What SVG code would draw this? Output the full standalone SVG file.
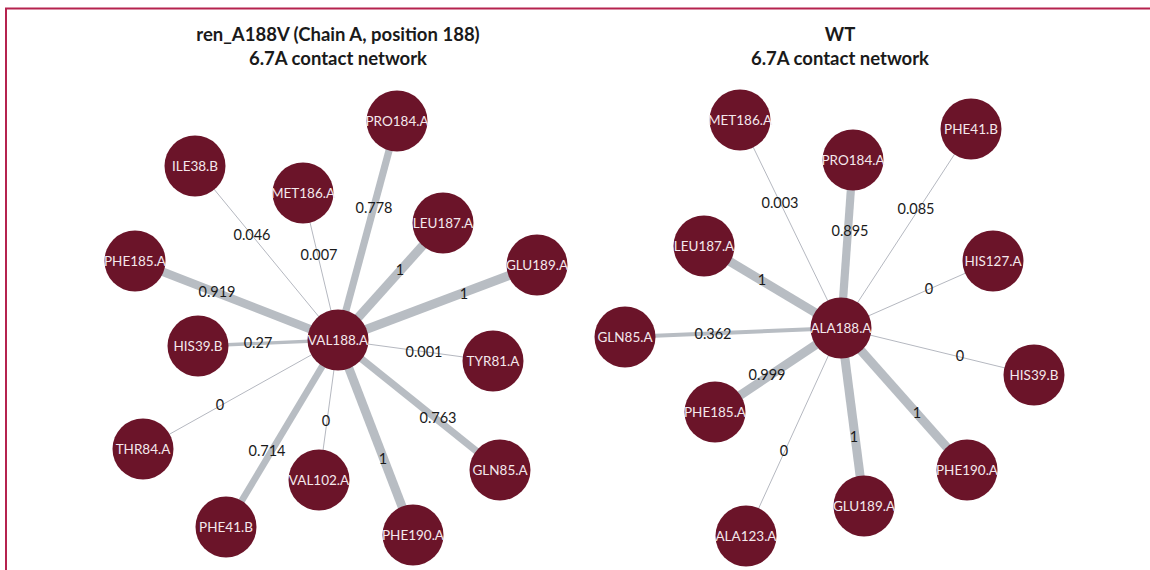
<svg xmlns="http://www.w3.org/2000/svg" width="1150" height="570" viewBox="0 0 1150 570">
<style>
.bg{fill:#ffffff}
.frame{fill:none;stroke:#b5234f;stroke-width:2}
.title{font-family:Lato,"Liberation Sans",sans-serif;font-weight:bold;font-size:18.5px;fill:#1a1a1a;text-anchor:middle}
.n circle{fill:#6b1429}
.n text{font-family:Lato,"Liberation Sans",sans-serif;font-size:13.5px;fill:#f4e8ec;text-anchor:middle}
.e line{stroke:#b8bdc3;stroke-linecap:butt}
.e line.t{stroke:#b5b8c0;stroke-width:1}
.el{font-family:Lato,"Liberation Sans",sans-serif;font-size:14.5px;fill:#1a1a1a;text-anchor:middle}
</style>
<rect class="bg" x="0" y="0" width="1150" height="570"/>
<path class="frame" d="M6,571 V8.5 H1151"/>
<text class="title" x="338" y="41">ren_A188V (Chain A, position 188)</text>
<text class="title" x="338" y="65">6.7A contact network</text>
<text class="title" x="840" y="41">WT</text>
<text class="title" x="840" y="65">6.7A contact network</text>

<g id="connectors" class="e">
<line x1="338" y1="340" x2="397" y2="121" stroke-width="7.2"/>
<line class="t" x1="338" y1="340" x2="195" y2="166"/>
<line class="t" x1="338" y1="340" x2="303" y2="193"/>
<line x1="338" y1="340" x2="443" y2="223" stroke-width="9"/>
<line x1="338" y1="340" x2="537" y2="265" stroke-width="9"/>
<line x1="338" y1="340" x2="135" y2="261" stroke-width="8.4"/>
<line x1="338" y1="340" x2="198" y2="346" stroke-width="3.4"/>
<line class="t" x1="338" y1="340" x2="493" y2="361"/>
<line class="t" x1="338" y1="340" x2="143" y2="449"/>
<line x1="338" y1="340" x2="500" y2="470" stroke-width="7.1"/>
<line class="t" x1="338" y1="340" x2="319" y2="480"/>
<line x1="338" y1="340" x2="226" y2="527" stroke-width="6.7"/>
<line x1="338" y1="340" x2="413" y2="535" stroke-width="9"/>

<line class="t" x1="841" y1="328" x2="740" y2="120"/>
<line x1="841" y1="328" x2="853" y2="160" stroke-width="8.2"/>
<line class="t" x1="841" y1="328" x2="971" y2="129"/>
<line x1="841" y1="328" x2="704" y2="246" stroke-width="9"/>
<line class="t" x1="841" y1="328" x2="993" y2="261"/>
<line x1="841" y1="328" x2="625" y2="337" stroke-width="3.9"/>
<line class="t" x1="841" y1="328" x2="1034" y2="375"/>
<line x1="841" y1="328" x2="715" y2="412" stroke-width="9"/>
<line x1="841" y1="328" x2="967" y2="470" stroke-width="9"/>
<line x1="841" y1="328" x2="864" y2="506" stroke-width="9"/>
<line class="t" x1="841" y1="328" x2="746" y2="536"/>
</g>

<g id="edge-labels">
<text class="el" x="374" y="213">0.778</text>
<text class="el" x="252" y="240">0.046</text>
<text class="el" x="319" y="260">0.007</text>
<text class="el" x="400" y="275">1</text>
<text class="el" x="464" y="299">1</text>
<text class="el" x="217" y="297">0.919</text>
<text class="el" x="258" y="348">0.27</text>
<text class="el" x="424" y="357">0.001</text>
<text class="el" x="220" y="410">0</text>
<text class="el" x="326" y="426">0</text>
<text class="el" x="438" y="423">0.763</text>
<text class="el" x="267" y="456">0.714</text>
<text class="el" x="383" y="464">1</text>

<text class="el" x="780" y="208">0.003</text>
<text class="el" x="850" y="236">0.895</text>
<text class="el" x="916" y="214">0.085</text>
<text class="el" x="762" y="285">1</text>
<text class="el" x="929" y="294">0</text>
<text class="el" x="713" y="339">0.362</text>
<text class="el" x="960" y="361">0</text>
<text class="el" x="767" y="380">0.999</text>
<text class="el" x="917" y="418">1</text>
<text class="el" x="854" y="442">1</text>
<text class="el" x="784" y="456">0</text>
</g>

<g id="left-VAL188A" class="n"><circle cx="338" cy="340" r="30.5"/><text x="338" y="345">VAL188.A</text></g>
<g id="left-PRO184A" class="n"><circle cx="397" cy="121" r="30.5"/><text x="397" y="126">PRO184.A</text></g>
<g id="left-ILE38B" class="n"><circle cx="195" cy="166" r="30.5"/><text x="195" y="171">ILE38.B</text></g>
<g id="left-MET186A" class="n"><circle cx="303" cy="193" r="30.5"/><text x="303" y="198">MET186.A</text></g>
<g id="left-LEU187A" class="n"><circle cx="443" cy="223" r="30.5"/><text x="443" y="228">LEU187.A</text></g>
<g id="left-GLU189A" class="n"><circle cx="537" cy="265" r="30.5"/><text x="537" y="270">GLU189.A</text></g>
<g id="left-PHE185A" class="n"><circle cx="135" cy="261" r="30.5"/><text x="135" y="266">PHE185.A</text></g>
<g id="left-HIS39B" class="n"><circle cx="198" cy="346" r="30.5"/><text x="198" y="351">HIS39.B</text></g>
<g id="left-TYR81A" class="n"><circle cx="493" cy="361" r="30.5"/><text x="493" y="366">TYR81.A</text></g>
<g id="left-THR84A" class="n"><circle cx="143" cy="449" r="30.5"/><text x="143" y="454">THR84.A</text></g>
<g id="left-GLN85A" class="n"><circle cx="500" cy="470" r="30.5"/><text x="500" y="475">GLN85.A</text></g>
<g id="left-VAL102A" class="n"><circle cx="319" cy="480" r="30.5"/><text x="319" y="485">VAL102.A</text></g>
<g id="left-PHE41B" class="n"><circle cx="226" cy="527" r="30.5"/><text x="226" y="532">PHE41.B</text></g>
<g id="left-PHE190A" class="n"><circle cx="413" cy="535" r="30.5"/><text x="413" y="540">PHE190.A</text></g>

<g id="right-ALA188A" class="n"><circle cx="841" cy="328" r="30.5"/><text x="841" y="333">ALA188.A</text></g>
<g id="right-MET186A" class="n"><circle cx="740" cy="120" r="30.5"/><text x="740" y="125">MET186.A</text></g>
<g id="right-PRO184A" class="n"><circle cx="853" cy="160" r="30.5"/><text x="853" y="165">PRO184.A</text></g>
<g id="right-PHE41B" class="n"><circle cx="971" cy="129" r="30.5"/><text x="971" y="134">PHE41.B</text></g>
<g id="right-LEU187A" class="n"><circle cx="704" cy="246" r="30.5"/><text x="704" y="251">LEU187.A</text></g>
<g id="right-HIS127A" class="n"><circle cx="993" cy="261" r="30.5"/><text x="993" y="266">HIS127.A</text></g>
<g id="right-GLN85A" class="n"><circle cx="625" cy="337" r="30.5"/><text x="625" y="342">GLN85.A</text></g>
<g id="right-HIS39B" class="n"><circle cx="1034" cy="375" r="30.5"/><text x="1034" y="380">HIS39.B</text></g>
<g id="right-PHE185A" class="n"><circle cx="715" cy="412" r="30.5"/><text x="715" y="417">PHE185.A</text></g>
<g id="right-PHE190A" class="n"><circle cx="967" cy="470" r="30.5"/><text x="967" y="475">PHE190.A</text></g>
<g id="right-GLU189A" class="n"><circle cx="864" cy="506" r="30.5"/><text x="864" y="511">GLU189.A</text></g>
<g id="right-ALA123A" class="n"><circle cx="746" cy="536" r="30.5"/><text x="746" y="541">ALA123.A</text></g>
</svg>
